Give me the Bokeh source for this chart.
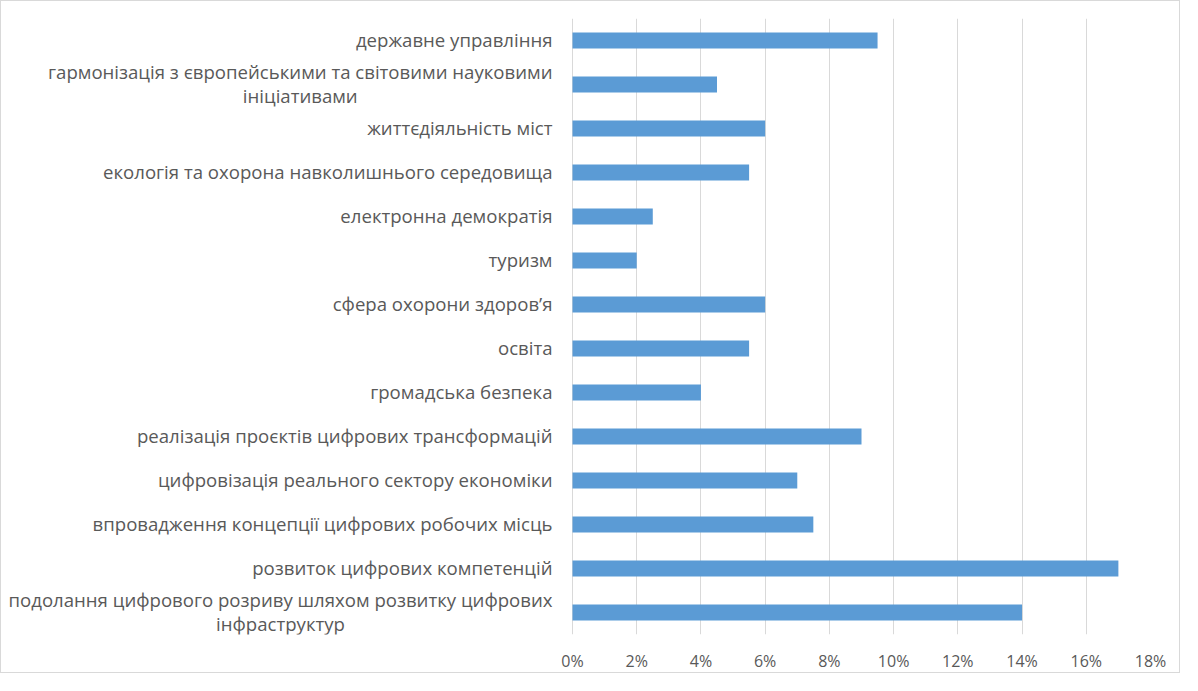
from bokeh.plotting import figure
from bokeh.models import FactorRange, FixedTicker, PrintfTickFormatter, Label
from bokeh.embed import file_html
from bokeh.resources import INLINE

categories = [
    "державне управління",
    "гармонізація з європейськими та світовими науковими\nініціативами",
    "життєдіяльність міст",
    "екологія та охорона навколишнього середовища",
    "електронна демократія",
    "туризм",
    "сфера охорони здоров’я",
    "освіта",
    "громадська безпека",
    "реалізація проєктів цифрових трансформацій",
    "цифровізація реального сектору економіки",
    "впровадження концепції цифрових робочих місць",
    "розвиток цифрових компетенцій",
    "подолання цифрового розриву шляхом розвитку цифрових\nінфраструктур",
]
values = [9.5, 4.5, 6, 5.5, 2.5, 2, 6, 5.5, 4, 9, 7, 7.5, 17, 14]
x_ticks = [0, 2, 4, 6, 8, 10, 12, 14, 16, 18]

FONT = "Open Sans"
TXT = "#595959"

W, H = 1180, 673
LEFT = 571          # pixel position of the 0% line inside the canvas
RIGHT_PAD = 31
X_MAX = 18
# extend the range to the left so the category labels live inside the frame
x_start = -X_MAX * LEFT / (W - RIGHT_PAD - LEFT)

factors = list(reversed(categories))
p = figure(
    width=W, height=H,
    y_range=FactorRange(factors=factors, range_padding=0),
    x_range=(x_start, X_MAX),
    output_backend="svg", toolbar_location=None,
    min_border_left=0, min_border_right=RIGHT_PAD, min_border_top=17, min_border_bottom=32,
)
p.styles = {"border": "1px solid #d9d9d9"}
p.outline_line_color = None
p.background_fill_color = "white"
p.border_fill_color = "white"

p.hbar(y=categories, right=values, left=0, height=0.36, fill_color="#5B9BD5", line_color=None)

p.xaxis.ticker = FixedTicker(ticks=x_ticks)
p.xaxis.formatter = PrintfTickFormatter(format="%d%%")
p.xaxis.axis_line_color = None
p.xaxis.major_tick_line_color = None
p.xaxis.minor_tick_line_color = None
p.xaxis.major_label_standoff = 9
p.xaxis.major_label_text_font = FONT
p.xaxis.major_label_text_font_size = "16px"
p.xaxis.major_label_text_color = TXT

p.yaxis.visible = False

for cat in categories:
    # synthetic coordinate of the factor's centre on the categorical range
    ypos = factors.index(cat) + 0.5
    p.add_layout(Label(
        x=LEFT - 20, x_units="screen", y=ypos, y_units="data", y_offset=1,
        text=cat, anchor="center_right", text_align="center",
        text_font=FONT, text_font_size="18.6px", text_color=TXT,
        text_line_height=0.95,
    ))

p.xgrid.grid_line_color = "#d9d9d9"
p.xgrid.grid_line_width = 1
p.ygrid.grid_line_color = None

open("out.html", "w").write(file_html(p, INLINE))
